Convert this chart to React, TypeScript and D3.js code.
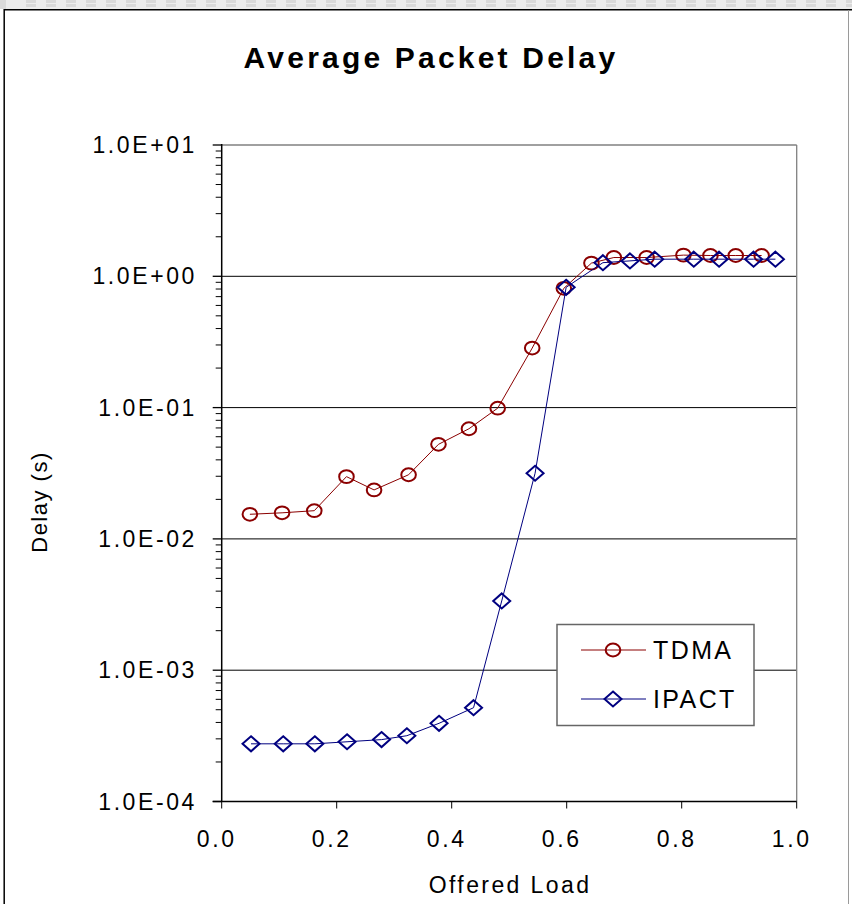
import React, { useEffect, useRef } from 'react'
import * as d3 from 'd3'

// offered load / delay
const tdmaLoad = [0.049, 0.105, 0.161, 0.217, 0.265, 0.325, 0.377, 0.43, 0.48, 0.54, 0.595, 0.643, 0.682, 0.739, 0.803, 0.85, 0.894, 0.939]
const tdmaDelay = [0.0154, 0.0158, 0.0164, 0.0298, 0.0236, 0.0308, 0.0525, 0.069, 0.099, 0.284, 0.81, 1.26, 1.39, 1.39, 1.45, 1.44, 1.44, 1.44]
const ipactLoad = [0.051, 0.107, 0.162, 0.218, 0.278, 0.322, 0.378, 0.438, 0.487, 0.545, 0.599, 0.663, 0.71, 0.753, 0.821, 0.865, 0.925, 0.963]
const ipactDelay = [0.000275, 0.000275, 0.000275, 0.000285, 0.000296, 0.000317, 0.000394, 0.000518, 0.00337, 0.0316, 0.824, 1.27, 1.31, 1.35, 1.35, 1.35, 1.35, 1.35]

const xTicks = [0, 0.2, 0.4, 0.6, 0.8, 1.0]
const yTicks = [1e-4, 1e-3, 1e-2, 1e-1, 1, 10]
const yTickLabels = ['1.0E-04', '1.0E-03', '1.0E-02', '1.0E-01', '1.0E+00', '1.0E+01']
const seriesNames = ['TDMA', 'IPACT']

const W = 852, H = 904
const FONT = "'Liberation Sans', Arial, sans-serif"
const RED = '#8b0000'
const BLUE = '#000080'

const App = () => {
  const ref = useRef<SVGSVGElement>(null)

  useEffect(() => {
    const svg = d3.select(ref.current)
    svg.selectAll('*').remove()

    const x = d3.scaleLinear().domain([0, 1]).range([221.7, 796.7])
    const y = d3.scaleLog().domain([1e-4, 10]).range([801.5, 145])
    const [x0, x1] = x.range()
    const [yb, yt] = y.range()

    svg.append('rect').attr('width', W).attr('height', H).attr('fill', '#fff')

    // gray strip at the very top
    svg.append('rect').attr('width', W).attr('height', 9).attr('fill', '#ececec')
    svg.append('rect').attr('width', 6).attr('height', 9).attr('fill', '#dadada')
    ;[1.5, 5.5].forEach(yy => {
      svg.append('line').attr('x1', 26).attr('x2', W).attr('y1', yy).attr('y2', yy)
        .attr('stroke', '#d9d9d9').attr('stroke-width', 3).attr('stroke-dasharray', '10,10')
    })

    // outer frame
    svg.append('line').attr('x1', 4).attr('x2', W).attr('y1', 9.8).attr('y2', 9.8).attr('stroke', '#000').attr('stroke-width', 1.5)
    svg.append('line').attr('x1', 4.2).attr('x2', 4.2).attr('y1', 9).attr('y2', H).attr('stroke', '#000').attr('stroke-width', 1.5)
    svg.append('line').attr('x1', 848.5).attr('x2', 848.5).attr('y1', 10).attr('y2', H).attr('stroke', '#9a9a9a').attr('stroke-width', 1)

    // title
    svg.append('text').attr('x', 431).attr('y', 68).attr('text-anchor', 'middle')
      .style('font-family', FONT).style('font-size', '30px').style('font-weight', 'bold')
      .style('letter-spacing', '3.2px').text('Average Packet Delay')

    // gridlines
    yTicks.slice(1, -1).forEach(v => {
      svg.append('line').attr('x1', x0).attr('x2', x1).attr('y1', y(v)).attr('y2', y(v))
        .attr('stroke', '#000').attr('stroke-width', 1)
    })
    // plot border top/right
    svg.append('line').attr('x1', x0).attr('x2', x1).attr('y1', yt).attr('y2', yt).attr('stroke', '#808080').attr('stroke-width', 1.3)
    svg.append('line').attr('x1', x1).attr('x2', x1).attr('y1', yt).attr('y2', yb).attr('stroke', '#808080').attr('stroke-width', 1.3)

    // y minor ticks
    const minors: number[] = []
    for (let e = -4; e < 1; e++) for (let m = 2; m <= 9; m++) minors.push(m * Math.pow(10, e))
    svg.selectAll('.ymin').data(minors).enter().append('line')
      .attr('x1', x0 - 6).attr('x2', x0).attr('y1', d => y(d)).attr('y2', d => y(d))
      .attr('stroke', '#000').attr('stroke-width', 1)
    svg.selectAll('.ymaj').data(yTicks).enter().append('line')
      .attr('x1', x0 - 9).attr('x2', x0).attr('y1', d => y(d)).attr('y2', d => y(d))
      .attr('stroke', '#000').attr('stroke-width', 1.3)
    svg.selectAll('.xmaj').data(xTicks).enter().append('line')
      .attr('x1', d => x(d)).attr('x2', d => x(d)).attr('y1', yb).attr('y2', yb + 7)
      .attr('stroke', '#000').attr('stroke-width', 1)

    // axes lines
    svg.append('line').attr('x1', x0).attr('x2', x0).attr('y1', yt - 1).attr('y2', yb).attr('stroke', '#000').attr('stroke-width', 1.5)
    svg.append('line').attr('x1', x0 - 9).attr('x2', x1).attr('y1', yb).attr('y2', yb).attr('stroke', '#000').attr('stroke-width', 1.5)

    // tick labels
    svg.selectAll('.ylab').data(yTicks).enter().append('text')
      .attr('x', 197).attr('y', d => y(d) + 8).attr('text-anchor', 'end')
      .style('font-family', FONT).style('font-size', '23px').style('letter-spacing', '2.6px')
      .text((d, i) => yTickLabels[i])
    svg.selectAll('.xlab').data(xTicks).enter().append('text')
      .attr('x', d => x(d) - 5).attr('y', 847).attr('text-anchor', 'middle')
      .style('font-family', FONT).style('font-size', '23px').style('letter-spacing', '2.6px')
      .text(d => d3.format('.1f')(d))

    // axis titles
    svg.append('text').attr('x', 510).attr('y', 893).attr('text-anchor', 'middle')
      .style('font-family', FONT).style('font-size', '23px').style('letter-spacing', '2.4px')
      .text('Offered Load')
    svg.append('text').attr('transform', 'translate(47,502) rotate(-90)').attr('text-anchor', 'middle')
      .style('font-family', FONT).style('font-size', '22px').style('letter-spacing', '1.5px')
      .text('Delay (s)')

    const line = d3.line<[number, number]>().x(d => x(d[0])).y(d => y(d[1]))
    const tdma: [number, number][] = tdmaLoad.map((l, i) => [l, tdmaDelay[i]])
    const ipact: [number, number][] = ipactLoad.map((l, i) => [l, ipactDelay[i]])

    const diamond = (cx: number, cy: number) => `M${cx},${cy - 7.5}L${cx + 8.5},${cy}L${cx},${cy + 7.5}L${cx - 8.5},${cy}Z`

    svg.append('path').datum(tdma).attr('d', line).attr('fill', 'none').attr('stroke', RED).attr('stroke-width', 1)
    svg.selectAll('.tdma').data(tdma).enter().append('ellipse')
      .attr('cx', d => x(d[0])).attr('cy', d => y(d[1])).attr('rx', 7.3).attr('ry', 6.4)
      .attr('fill', 'none').attr('stroke', RED).attr('stroke-width', 2)

    svg.append('path').datum(ipact).attr('d', line).attr('fill', 'none').attr('stroke', BLUE).attr('stroke-width', 1)
    svg.selectAll('.ipact').data(ipact).enter().append('path')
      .attr('d', d => diamond(x(d[0]), y(d[1])))
      .attr('fill', 'none').attr('stroke', BLUE).attr('stroke-width', 2)

    // legend
    const lg = svg.append('g')
    lg.append('rect').attr('x', 557).attr('y', 624.5).attr('width', 197).attr('height', 101)
      .attr('fill', '#fff').attr('stroke', '#666').attr('stroke-width', 1.5)
    const rows = [{ name: seriesNames[0], c: RED, yy: 650 }, { name: seriesNames[1], c: BLUE, yy: 699 }]
    rows.forEach((r, i) => {
      lg.append('line').attr('x1', 581).attr('x2', 646).attr('y1', r.yy).attr('y2', r.yy).attr('stroke', r.c).attr('stroke-width', 1)
      if (i === 0) {
        lg.append('ellipse').attr('cx', 613).attr('cy', r.yy).attr('rx', 7.3).attr('ry', 6.4)
          .attr('fill', 'none').attr('stroke', r.c).attr('stroke-width', 2)
      } else {
        lg.append('path').attr('d', diamond(613, r.yy)).attr('fill', 'none').attr('stroke', r.c).attr('stroke-width', 2)
      }
      lg.append('text').attr('x', 653).attr('y', r.yy + 8.5).style('font-family', FONT)
        .style('font-size', '25px').style('letter-spacing', '2.4px').text(r.name)
    })
  }, [])

  return (
    <div style={{ position: 'absolute', left: 0, top: 0 }}>
      <svg ref={ref} width={W} height={H} style={{ display: 'block' }}></svg>
    </div>
  )
}

export default App
